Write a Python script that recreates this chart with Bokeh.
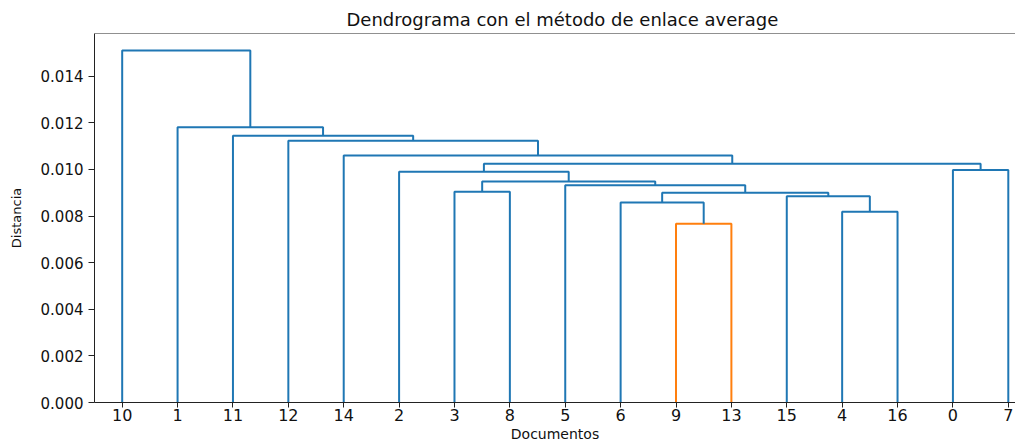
from bokeh.plotting import figure
from bokeh.models import FixedTicker, PrintfTickFormatter, Span, ColumnDataSource
from bokeh.embed import file_html
from bokeh.resources import INLINE

# ---- data -------------------------------------------------------------
leaf_order = [10, 1, 11, 12, 14, 2, 3, 8, 5, 6, 9, 13, 15, 4, 16, 0, 7]
n_leaves = 17
# merges: (left cluster, right cluster, distance); new cluster ids start at n_leaves
merge_left = [9, 4, 6, 15, 19, 3, 5, 22, 2, 0, 25, 14, 12, 11, 1, 10]
merge_right = [13, 16, 17, 18, 20, 8, 21, 23, 24, 7, 26, 27, 28, 29, 30, 31]
merge_height = [0.00767, 0.00818, 0.00858, 0.00885, 0.00900, 0.00904, 0.00932,
                0.00948, 0.00990, 0.00997, 0.01024, 0.01060, 0.01123, 0.01144,
                0.01181, 0.01510]
y_ticks = [0.000, 0.002, 0.004, 0.006, 0.008, 0.010, 0.012, 0.014]

COLOR_THRESHOLD = 0.008
BLUE = "#1f77b4"
ORANGE = "#ff7f0e"
FONT = "DejaVu Sans"

# ---- dendrogram geometry ---------------------------------------------
pos = {}
hgt = {}
for i, leaf in enumerate(leaf_order):
    pos[leaf] = 5 + 10 * i
    hgt[leaf] = 0.0

xs, ys, colors = [], [], []
for k, (a, b, h) in enumerate(zip(merge_left, merge_right, merge_height)):
    cid = n_leaves + k
    xa, xb = pos[a], pos[b]
    xl, xr = (xa, xb) if xa < xb else (xb, xa)
    yl, yr = (hgt[a], hgt[b]) if xa < xb else (hgt[b], hgt[a])
    xs.append([xl, xl, xr, xr])
    ys.append([yl, h, h, yr])
    colors.append(ORANGE if h < COLOR_THRESHOLD else BLUE)
    pos[cid] = (xa + xb) / 2
    hgt[cid] = h

src = ColumnDataSource(dict(xs=xs, ys=ys, color=colors))

X_MAX = 166.3
Y_MAX = 0.01583

p = figure(width=1015, height=444, output_backend="svg", toolbar_location=None,
           x_range=(0, X_MAX), y_range=(0, Y_MAX),
           min_border_left=94, min_border_right=0, min_border_top=33,
           min_border_bottom=42, title="Dendrograma con el método de enlace average")
p.multi_line("xs", "ys", color="color", line_width=2, source=src)

p.outline_line_color = None
p.xgrid.visible = False
p.ygrid.visible = False
p.background_fill_color = "white"
p.border_fill_color = "white"

p.title.text_font = FONT
p.title.text_font_size = "18px"
p.title.text_font_style = "normal"
p.title.text_color = "#111111"
p.title.align = "left"
p.title.offset = 252
p.title.standoff = 8

# x axis
p.xaxis.ticker = FixedTicker(ticks=[5 + 10 * i for i in range(n_leaves)])
p.xaxis.major_label_overrides = {5 + 10 * i: str(l) for i, l in enumerate(leaf_order)}
p.xaxis.major_label_text_font = FONT
p.xaxis.major_label_text_font_size = "16px"
p.xaxis.major_label_text_color = "#111111"
p.xaxis.major_label_standoff = 1
p.xaxis.major_tick_out = 5
p.xaxis.major_tick_in = 0
p.xaxis.minor_tick_line_color = None
p.xaxis.axis_line_color = "#222222"
p.xaxis.major_tick_line_color = "#222222"
p.xaxis.axis_label = "Documentos"
p.xaxis.axis_label_text_font = FONT
p.xaxis.axis_label_text_font_size = "14px"
p.xaxis.axis_label_text_font_style = "normal"
p.xaxis.axis_label_text_color = "#111111"
p.xaxis.axis_label_standoff = 2

# y axis
p.yaxis.ticker = FixedTicker(ticks=y_ticks)
p.yaxis.formatter = PrintfTickFormatter(format="%.3f")
p.yaxis.major_label_text_font = FONT
p.yaxis.major_label_text_font_size = "15px"
p.yaxis.major_label_text_color = "#111111"
p.yaxis.major_label_standoff = 5
p.yaxis.major_tick_out = 6
p.yaxis.major_tick_in = 0
p.yaxis.minor_tick_line_color = None
p.yaxis.axis_line_color = "#222222"
p.yaxis.major_tick_line_color = "#222222"
p.yaxis.axis_label = "Distancia"
p.yaxis.axis_label_text_font = FONT
p.yaxis.axis_label_text_font_size = "13px"
p.yaxis.axis_label_text_font_style = "normal"
p.yaxis.axis_label_text_color = "#111111"
p.yaxis.axis_label_standoff = 14

# top spine
p.add_layout(Span(location=Y_MAX, dimension="width", line_color="#222222", line_width=1.2))

open("out.html", "w").write(file_html(p, INLINE))
